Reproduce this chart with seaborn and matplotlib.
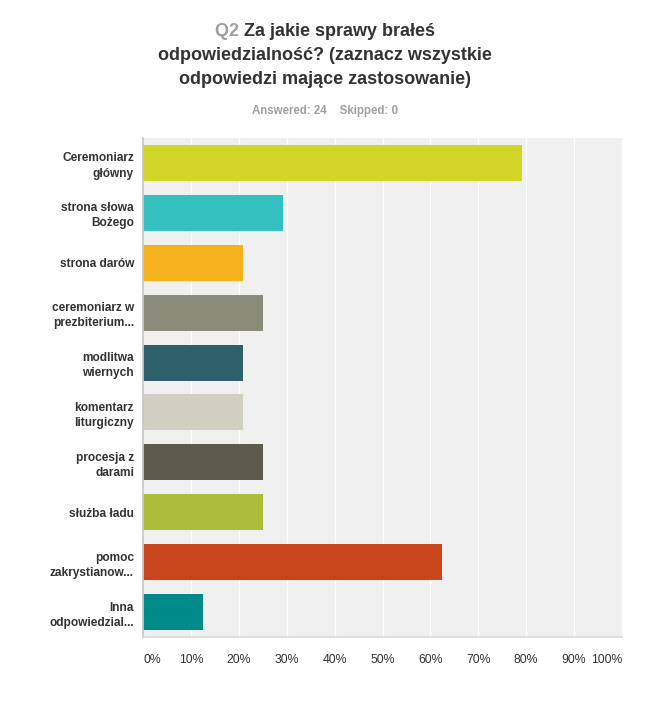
import seaborn as sns
import matplotlib.pyplot as plt
import pandas as pd

categories = ["Ceremoniarz\ngłówny", "strona słowa\nBożego", "strona darów",
              "ceremoniarz w\nprezbiterium...", "modlitwa\nwiernych",
              "komentarz\nliturgiczny", "procesja z\ndarami", "służba ładu",
              "pomoc\nzakrystianow...", "Inna\nodpowiedzial..."]
percent = [79.17, 29.17, 20.83, 25.0, 20.83, 20.83, 25.0, 25.0, 62.5, 12.5]
colors = ["#d0d527", "#34bfc0", "#f6b11e", "#8b8b7a", "#2e606c",
          "#d0cfc1", "#5b5a4b", "#abbd38", "#c9461c", "#008a8a"]
x_ticks = [0, 10, 20, 30, 40, 50, 60, 70, 80, 90, 100]

df = pd.DataFrame({"answer": categories, "percent": percent})

sns.set_theme(style="white")
plt.rcParams["font.family"] = ["Liberation Sans", "DejaVu Sans"]

fig = plt.figure(figsize=(6.5, 7.11), dpi=100)
ax = fig.add_axes([0.22, 0.104, 0.737, 0.702])
ax.set_facecolor("#f0f0f0")

sns.barplot(data=df, x="percent", y="answer", hue="answer", palette=colors,
            orient="h", width=0.72, legend=False, ax=ax, saturation=1,
            linewidth=0)

ax.set_xlim(0, 100)
ax.set_xticks(x_ticks)
ax.set_xticklabels([f"{t}%" for t in x_ticks], fontsize=8.8, color="#333333")
for i, lab in enumerate(ax.get_xticklabels()):
    if i == 0:
        lab.set_ha("left")
    elif i == len(x_ticks) - 1:
        lab.set_ha("right")
ax.tick_params(axis="x", length=0, pad=12)
ax.tick_params(axis="y", length=0, pad=6.5)
for lab in ax.get_yticklabels():
    lab.set_fontsize(8.6)
    lab.set_fontweight("bold")
    lab.set_color("#333333")
    lab.set_multialignment("right")
    lab.set_linespacing(1.35)
ax.set_xlabel("")
ax.set_ylabel("")
ax.grid(axis="x", color="white", linewidth=1)
ax.set_axisbelow(True)
for side in ["top", "right"]:
    ax.spines[side].set_visible(False)
ax.spines["left"].set_color("#c8c8c8")
ax.spines["bottom"].set_color("#d8d8d8")

# title with grey "Q2" prefix
fig.canvas.draw()
renderer = fig.canvas.get_renderer()
title_size = 13
pre = fig.text(0, 0, "Q2 ", fontsize=title_size, fontweight="bold", color="#a0a0a0")
rest_txt = "Za jakie sprawy brałeś"
rest = fig.text(0, 0, rest_txt, fontsize=title_size, fontweight="bold", color="#333333")
w_pre = pre.get_window_extent(renderer).width / fig.bbox.width
w_rest = rest.get_window_extent(renderer).width / fig.bbox.width
x0 = 0.5 - (w_pre + w_rest) / 2
y1 = 1 - 32 / 711
pre.set_position((x0, y1))
pre.set_va("center")
rest.set_position((x0 + w_pre, y1))
rest.set_va("center")
fig.text(0.5, 1 - 56 / 711, "odpowiedzialność? (zaznacz wszystkie", fontsize=title_size,
         fontweight="bold", color="#333333", ha="center", va="center")
fig.text(0.5, 1 - 80 / 711, "odpowiedzi mające zastosowanie)", fontsize=title_size,
         fontweight="bold", color="#333333", ha="center", va="center")
fig.text(0.5, 1 - 111 / 711, "Answered: 24    Skipped: 0", fontsize=8.3,
         fontweight="bold", color="#a0a0a0", ha="center", va="center")

plt.savefig("out.png", dpi=100)
